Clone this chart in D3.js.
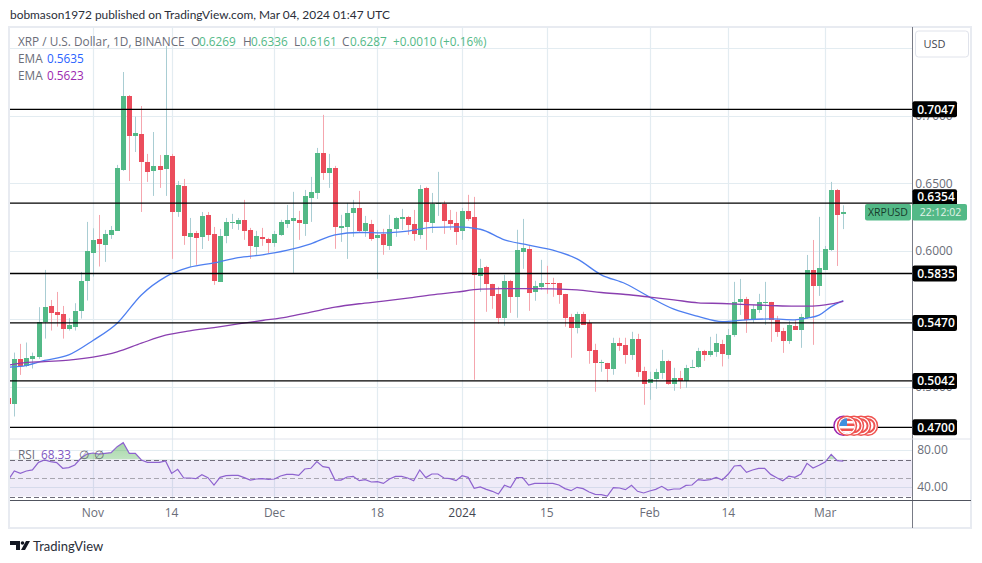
<!DOCTYPE html>
<html>
<head>
<meta charset="utf-8">
<script src="https://cdn.jsdelivr.net/npm/d3@7"></script>
<style>
  html, body { margin: 0; padding: 0; background: #fff; }
  svg { display: block; }
  text { font-family: "Open Sans", "Noto Sans", sans-serif; }
</style>
</head>
<body>
<div id="chart"></div>
<script>
// first candle is 18 Oct 2023, one candle per day
const firstDay = new Date(Date.UTC(2023, 9, 18))
const opens = [.4918,.4876,.5204,.5151,.5207,.5224,.5479,.5596,.5550,.5538,.5430,.5444,.5560,.5780,.5986,.6089,.6045,.6118,.6148,.6596,.7140,.6846,.6861,.6655,.6589,.6625,.6603,.6699,.6287,.6478,.6103,.6133,.6103,.6265,.6126,.5773,.6111,.6209,.6199,
  .6229,.6155,.6031,.6104,.6089,.6060,.6119,.6199,.6222,.6229,.6199,.6391,.6427,.6721,.6574,.6611,.6170,.6177,.6280,.6317,.6148,.6199,.6097,.6126,.6038,.6163,.6236,.6251,.6199,.6119,.6464,.6207,.6349,.6347,.6229,.6207,.6148,.6295,
  .6251,.5817,.5884,.5759,.5685,.5509,.5781,.5663,.5994,.6016,.5700,.5737,.5766,.5766,.5766,.5685,.5516,.5435,.5538,.5472,.5273,.5178,.5178,.5134,.5325,.5310,.5237,.5354,.5119,.5031,.5060,.5104,.5193,.5024,.5068,.5046,.5141,.5149,
  .5266,.5236,.5258,.5317,.5236,.5383,.5626,.5648,.5494,.5567,.5618,.5626,.5494,.5413,.5339,.5449,.5420,.5508,.5861,.5743,.5861,.6008,.6449,.6269]
const closes = [.4876,.5204,.5151,.5212,.5229,.5479,.5587,.5545,.5530,.5430,.5457,.5560,.5780,.6001,.6082,.6052,.6126,.6155,.6611,.7140,.6846,.6868,.6655,.6581,.6625,.6596,.6706,.6287,.6486,.6111,.6133,.6096,.6258,.6118,.5780,.6111,.6214,.6214,.6229,
  .6148,.6038,.6111,.6089,.6060,.6126,.6214,.6229,.6244,.6207,.6405,.6435,.6721,.6574,.6611,.6177,.6185,.6280,.6317,.6148,.6207,.6089,.6119,.6045,.6163,.6244,.6251,.6192,.6126,.6457,.6214,.6347,.6354,.6222,.6199,.6141,.6295,.6236,
  .5825,.5876,.5759,.5670,.5509,.5781,.5663,.6008,.6023,.5692,.5744,.5766,.5761,.5761,.5678,.5509,.5435,.5538,.5457,.5266,.5178,.5185,.5134,.5325,.5303,.5237,.5354,.5112,.5024,.5060,.5112,.5193,.5024,.5068,.5046,.5141,.5149,.5266,
  .5236,.5266,.5324,.5244,.5383,.5626,.5648,.5494,.5574,.5626,.5626,.5494,.5405,.5339,.5457,.5420,.5516,.5861,.5743,.5876,.6015,.6449,.6265,.6287]
const highs = [.4918,.5253,.5317,.5327,.5253,.5587,.5861,.5640,.5699,.5596,.5506,.5616,.5846,.6214,.6167,.6265,.6155,.6184,.6633,.7316,.7147,.6988,.7066,.6714,.6875,.6706,.7507,.6714,.6515,.6530,.6243,.6148,.6287,.6287,.6177,.6162,.6243,.6273,.6243,
  .6376,.6170,.6148,.6170,.6097,.6148,.6229,.6339,.6435,.6295,.6449,.6545,.6758,.7001,.6714,.6626,.6266,.6354,.6376,.6442,.6258,.6229,.6155,.6163,.6266,.6251,.6310,.6258,.6302,.6486,.6472,.6427,.6582,.6369,.6302,.6288,.6317,.6413,
  .6398,.5942,.5891,.5759,.5737,.5825,.5788,.6156,.6236,.6038,.5781,.5935,.5891,.5803,.5766,.5685,.5538,.5553,.5553,.5494,.5318,.5200,.5178,.5362,.5362,.5362,.5406,.5391,.5149,.5112,.5134,.5273,.5200,.5141,.5119,.5163,.5200,.5288,
  .5273,.5369,.5391,.5347,.5427,.5773,.5795,.5663,.5604,.5685,.5773,.5626,.5523,.5435,.5486,.5494,.5538,.5971,.6081,.6251,.6037,.6508,.6456,.6336]
const lows = [.4876,.4783,.5089,.5146,.5136,.5207,.5356,.5415,.5444,.5356,.5415,.5415,.5503,.5636,.5812,.5886,.5920,.6089,.6148,.6589,.6515,.6728,.6287,.6508,.6405,.6464,.6405,.5942,.6251,.6045,.5883,.5898,.6015,.6074,.5751,.5773,.6057,.6162,.6155,
  .6082,.5942,.5972,.6038,.5986,.6031,.6111,.6170,.5839,.6082,.6111,.6214,.6383,.6523,.6464,.6016,.6067,.5942,.6104,.6141,.6104,.6075,.5795,.5972,.6008,.6104,.6155,.6119,.6075,.6089,.6008,.6133,.6258,.6126,.6155,.6045,.6082,.6222,
  .5053,.5700,.5553,.5575,.5465,.5450,.5545,.5509,.5869,.5560,.5634,.5715,.5685,.5663,.5612,.5443,.5215,.5394,.5457,.5171,.4965,.5112,.5038,.5090,.5266,.5171,.5200,.5075,.4869,.4906,.4987,.5060,.5016,.4972,.4987,.4994,.5141,.5141,
  .5192,.5222,.5222,.5151,.5207,.5369,.5530,.5398,.5472,.5545,.5457,.5332,.5369,.5251,.5317,.5420,.5288,.5501,.5310,.5670,.5861,.6001,.5890,.6161]

// EMA readings, taken every few candles (candle number counted from firstDay)
const emaDays = [0,2,6,10,14,18,22,26,30,34,38,42,46,50,54,58,62,66,70,74,78,82,86,90,94,98,102,106,110,114,118,122,126,130,132,134,136,138]
const emaFast = [.5146,.5151,.5195,.5236,.5342,.5469,.5677,.5810,.5881,.5913,.5952,.5972,.6004,.6053,.6119,.6136,.6133,.6146,.6173,.6178,.6160,.6082,.6043,.6006,.5942,.5825,.5759,.5661,.5572,.5519,.5481,.5494,.5501,.5494,.5506,.5528,.5591,.5635]
const emaSlow = [.5160,.5175,.5187,.5197,.5219,.5258,.5322,.5381,.5413,.5437,.5464,.5489,.5514,.5550,.5587,.5612,.5631,.5653,.5678,.5697,.5719,.5724,.5724,.5722,.5714,.5695,.5680,.5661,.5641,.5619,.5614,.5606,.5599,.5594,.5594,.5599,.5611,.5630]

const rsi = [47.8,57.6,55.0,57.6,58.7,66.9,69.5,67.7,66.6,60.5,61.2,64.1,71.3,75.9,77.0,75.9,76.7,77.4,83.9,88.2,76.7,76.7,69.5,66.9,66.9,66.9,68.4,55.0,59.4,50.0,50.0,49.3,53.6,50.4,42.4,50.7,52.5,52.9,52.9,
  50.4,47.8,48.9,49.3,48.6,48.9,52.2,54.0,54.0,52.9,59.7,60.5,67.7,62.3,61.2,47.8,47.8,51.1,51.8,47.1,48.2,45.7,46.0,44.2,48.9,51.8,51.8,50.0,47.1,58.7,50.4,54.3,54.3,50.0,49.3,47.1,52.5,50.7,
  38.8,40.3,37.7,35.6,32.7,42.1,39.6,50.4,50.4,42.4,44.2,44.2,44.2,44.2,42.4,38.5,36.3,39.9,38.5,34.9,32.3,32.0,30.5,39.6,39.2,37.4,42.1,35.6,33.8,35.9,37.7,41.0,37.0,38.1,38.1,42.0,42.4,48.2,
  47.5,48.2,50.7,47.8,54.3,63.0,63.7,56.1,58.6,60.4,60.4,53.9,50.3,47.1,52.1,50.7,54.3,65.8,60.8,63.7,67.3,75.6,68.7,68.33]

const levels = [0.7047, 0.6354, 0.5835, 0.5470, 0.5042, 0.4700]
const priceGrid = [0.75, 0.70, 0.65, 0.60, 0.55, 0.50]
const priceLabels = [0.70, 0.65, 0.60, 0.50]
const rsiTicks = [80, 40]
const timeTicks = [
  [new Date(Date.UTC(2023, 10, 1)), 'Nov'],
  [new Date(Date.UTC(2023, 10, 14)), '14'],
  [new Date(Date.UTC(2023, 11, 1)), 'Dec'],
  [new Date(Date.UTC(2023, 11, 18)), '18'],
  [new Date(Date.UTC(2024, 0, 1)), '2024'],
  [new Date(Date.UTC(2024, 0, 15)), '15'],
  [new Date(Date.UTC(2024, 1, 1)), 'Feb'],
  [new Date(Date.UTC(2024, 1, 14)), '14'],
  [new Date(Date.UTC(2024, 2, 1)), 'Mar']
]

const up = '#53b987', down = '#eb4d5c'
const upWick = '#a9cdd3', downWick = '#f5a6ae'
const grid = '#e3ecf1'
const grey = '#6a6d78'

const dayOf = i => d3.utcDay.offset(firstDay, i)

const svg = d3.select('#chart').append('svg').attr('width', 982).attr('height', 563)

let x = d3.scaleUtc()
  .domain([dayOf(1), dayOf(138)])
  .range([14.3, 843.3])
let y = d3.scaleLinear().domain([0.65, 0.47]).range([183, 427.8])
// grid, axis and drawn levels, their prices are exact
let yLevel = d3.scaleLinear().domain([0.7047, 0.47]).range([109.3, 427.3])
let yRsi = d3.scaleLinear().domain([70, 30]).range([459.5, 496.5])

const paneL = 10, paneR = 912.5, paneT = 27, priceB = 439, paneB = 500.5
const snap = v => Math.round(v) + 0.5

svg.append('text').attr('x', 10).attr('y', 19)
  .attr('font-size', 11.9).attr('fill', '#2a2e39').style('font-family', 'Lato')
  .text('bobmason1972 published on TradingView.com, Mar 04, 2024 01:47 UTC')

// outer frame
svg.append('rect').attr('x', 9).attr('y', 27).attr('width', 962).attr('height', 501)
  .attr('fill', '#fff').attr('stroke', '#e8ebf1').attr('stroke-width', 2)

svg.append('clipPath').attr('id', 'pane').append('rect')
  .attr('x', paneL).attr('y', paneT).attr('width', paneR - paneL).attr('height', priceB - paneT)
svg.append('clipPath').attr('id', 'rsiPane').append('rect')
  .attr('x', paneL).attr('y', priceB).attr('width', paneR - paneL).attr('height', paneB - priceB)
svg.append('clipPath').attr('id', 'above70').append('rect')
  .attr('x', paneL).attr('y', priceB).attr('width', paneR - paneL).attr('height', yRsi(70) - priceB)

// grid
svg.append('g').selectAll('line').data(timeTicks).enter().append('line')
  .attr('x1', d => snap(x(d[0]))).attr('x2', d => snap(x(d[0])))
  .attr('y1', paneT).attr('y2', paneB)
  .attr('stroke', grid).attr('stroke-width', 1.2)
svg.append('g').selectAll('line').data(priceGrid).enter().append('line')
  .attr('x1', paneL).attr('x2', paneR)
  .attr('y1', d => snap(yLevel(d))).attr('y2', d => snap(yLevel(d)))
  .attr('stroke', grid).attr('stroke-width', 1.2)
svg.append('g').selectAll('line').data(rsiTicks).enter().append('line')
  .attr('x1', paneL).attr('x2', paneR)
  .attr('y1', d => snap(yRsi(d))).attr('y2', d => snap(yRsi(d)))
  .attr('stroke', grid).attr('stroke-width', 1.2)

// RSI pane
svg.append('rect').attr('x', paneL).attr('width', paneR - paneL)
  .attr('y', yRsi(70)).attr('height', yRsi(30) - yRsi(70))
  .attr('fill', '#7e57c2').attr('opacity', 0.12)

const defs = svg.append('defs')
const grad = defs.append('linearGradient').attr('id', 'rsiGreen').attr('x1', 0).attr('x2', 0).attr('y1', 0).attr('y2', 1)
grad.append('stop').attr('offset', '0%').attr('stop-color', '#4caf50').attr('stop-opacity', 0.5)
grad.append('stop').attr('offset', '100%').attr('stop-color', '#4caf50').attr('stop-opacity', 0.02)

const rsiArea = d3.area()
  .x((d, i) => x(dayOf(i)))
  .y0(yRsi(70))
  .y1(d => yRsi(d))
svg.append('path').datum(rsi).attr('d', rsiArea)
  .attr('fill', 'url(#rsiGreen)').attr('clip-path', 'url(#above70)')

svg.append('g').selectAll('line').data([70, 50, 30]).enter().append('line')
  .attr('x1', paneL).attr('x2', paneR)
  .attr('y1', d => snap(yRsi(d))).attr('y2', d => snap(yRsi(d)))
  .attr('stroke', d => d == 50 ? '#a8a6b0' : '#6f6c7a')
  .attr('stroke-dasharray', '5,3')

svg.append('path').datum(rsi)
  .attr('d', d3.line().x((d, i) => x(dayOf(i))).y(d => yRsi(d)))
  .attr('fill', 'none').attr('stroke', '#8e63cf').attr('stroke-width', 1.2)
  .attr('clip-path', 'url(#rsiPane)')

// candles
const candles = svg.append('g').attr('clip-path', 'url(#pane)')
const days = opens.map((d, i) => i)
const bodyTop = i => Math.round(y(Math.max(opens[i], closes[i])))
const bodyBottom = i => Math.round(y(Math.min(opens[i], closes[i])))
candles.selectAll('line').data(days).enter().append('line')
  .attr('x1', i => snap(x(dayOf(i)))).attr('x2', i => snap(x(dayOf(i))))
  .attr('y1', i => y(highs[i])).attr('y2', i => y(lows[i]))
  .attr('stroke', i => closes[i] >= opens[i] ? upWick : downWick)
candles.selectAll('rect').data(days).enter().append('rect')
  .attr('x', i => Math.round(x(dayOf(i))) - 2).attr('width', 5)
  .attr('y', bodyTop)
  .attr('height', i => Math.max(1, bodyBottom(i) - bodyTop(i)))
  .attr('fill', i => closes[i] >= opens[i] ? up : down)

// EMA lines
const emaLine = d3.line().x((d, i) => x(dayOf(emaDays[i]))).y(d => y(d)).curve(d3.curveMonotoneX)
svg.append('path').datum(emaFast).attr('d', emaLine).attr('fill', 'none')
  .attr('stroke', '#4e7ff0').attr('stroke-width', 1.3).attr('clip-path', 'url(#pane)')
svg.append('path').datum(emaSlow).attr('d', emaLine).attr('fill', 'none')
  .attr('stroke', '#8a3fb0').attr('stroke-width', 1.3).attr('clip-path', 'url(#pane)')

// drawn levels
svg.append('g').selectAll('line').data(levels).enter().append('line')
  .attr('x1', paneL).attr('x2', paneR)
  .attr('y1', d => yLevel(d)).attr('y2', d => yLevel(d))
  .attr('stroke', '#000').attr('stroke-width', 1.3)

// event flags
const flags = svg.append('g')
flags.append('circle').attr('cx', 843.5).attr('cy', 425.7).attr('r', 9.5).attr('fill', '#fff').attr('stroke', '#9c27b0').attr('stroke-width', 1.5)
;[868, 861, 854, 847].forEach(cx => {
  flags.append('circle').attr('cx', cx).attr('cy', 425.7).attr('r', 9.5).attr('fill', '#fff').attr('stroke', '#ef5350').attr('stroke-width', 1.5)
  flags.append('circle').attr('cx', cx).attr('cy', 425.7).attr('r', 6.5).attr('fill', '#fff').attr('stroke', '#ef5350').attr('stroke-width', 2)
})
flags.append('clipPath').attr('id', 'flag').append('circle').attr('cx', 847).attr('cy', 425.7).attr('r', 7.5)
const flag = flags.append('g').attr('clip-path', 'url(#flag)')
flag.append('rect').attr('x', 839).attr('y', 418).attr('width', 16).attr('height', 16).attr('fill', '#fff')
;[0, 2, 4].forEach(k => flag.append('rect').attr('x', 839).attr('y', 418.5 + k * 2.5).attr('width', 16).attr('height', 2.5).attr('fill', '#ef5350'))
flag.append('rect').attr('x', 839).attr('y', 418).attr('width', 8).attr('height', 8).attr('fill', '#3f8fdf')

// axes
svg.append('line').attr('x1', paneR).attr('x2', paneR).attr('y1', paneT).attr('y2', 528).attr('stroke', '#787b86')
svg.append('line').attr('x1', paneL).attr('x2', 971).attr('y1', paneB).attr('y2', paneB).attr('stroke', '#50535e')
svg.append('line').attr('x1', paneL).attr('x2', paneR).attr('y1', priceB).attr('y2', priceB).attr('stroke', '#e0e3eb')
svg.append('line').attr('x1', paneR).attr('x2', 971).attr('y1', priceB).attr('y2', priceB).attr('stroke', '#e0e3eb')

// 0.7000 and 0.5000 sit half hidden behind the level tags, as in the original
svg.append('g').selectAll('text').data(priceLabels).enter().append('text')
  .attr('x', 934).attr('y', d => yLevel(d)).attr('dy', '0.35em').attr('text-anchor', 'middle')
  .attr('font-size', 12).attr('fill', grey).text(d => d.toFixed(4))
svg.append('g').selectAll('text').data(rsiTicks).enter().append('text')
  .attr('x', 932.5).attr('y', d => yRsi(d)).attr('dy', '0.35em').attr('text-anchor', 'middle')
  .attr('font-size', 12).attr('fill', grey).text(d => d.toFixed(2))
svg.append('g').selectAll('text').data(timeTicks).enter().append('text')
  .attr('x', d => x(d[0])).attr('y', 513).attr('dy', '0.35em').attr('text-anchor', 'middle')
  .attr('font-size', 12).attr('fill', d => d[1] == '2024' ? '#434651' : grey)
  .attr('font-weight', d => d[1] == '2024' ? 500 : 400).text(d => d[1])

// price tags, the 0.6354 one is pushed up by the countdown label
const tagY = d => d == 0.6354 ? yLevel(d) - 6 : yLevel(d)
const tags = svg.append('g').selectAll('g').data(levels).enter().append('g')
tags.append('rect').attr('x', paneR).attr('width', 44.5).attr('y', d => tagY(d) - 8).attr('height', 16).attr('rx', 2).attr('fill', '#000')
tags.append('text').attr('x', 936).attr('y', d => tagY(d)).attr('dy', '0.35em').attr('text-anchor', 'middle')
  .attr('font-size', 12).attr('font-weight', 600).attr('fill', '#fff').text(d => d.toFixed(4))

svg.append('rect').attr('x', 865).attr('y', 204).attr('width', 46).attr('height', 16.5).attr('rx', 2).attr('fill', up)
svg.append('rect').attr('x', 912).attr('y', 204).attr('width', 55).attr('height', 16.5).attr('rx', 2).attr('fill', up)
svg.append('text').attr('x', 888).attr('y', 212.3).attr('dy', '0.35em').attr('text-anchor', 'middle')
  .attr('font-size', 10.5).attr('fill', '#173a2b').text('XRPUSD')
svg.append('text').attr('x', 940.5).attr('y', 212.3).attr('dy', '0.35em').attr('text-anchor', 'middle')
  .attr('font-size', 10.5).attr('fill', '#e3f3ea').text('22:12:02')

// USD box
svg.append('rect').attr('x', 915.5).attr('y', 31).attr('width', 53).attr('height', 26).attr('rx', 3)
  .attr('fill', '#fff').attr('stroke', '#e0e3eb')
svg.append('text').attr('x', 934.5).attr('y', 44).attr('dy', '0.35em').attr('text-anchor', 'middle')
  .attr('font-size', 11).attr('fill', '#434651').text('USD')

// legend
const legend = (xp, yp, txt, col) => svg.append('text').attr('x', xp).attr('y', yp).attr('dy', '0.35em')
  .attr('font-size', 11.8).attr('fill', col).text(txt)
const legendGreen = '#53b987'
legend(18, 41.5, 'XRP / U.S. Dollar, 1D, BINANCE', grey)
legend(191, 41.5, 'O', grey); legend(199, 41.5, '0.6269', legendGreen)
legend(243, 41.5, 'H', grey); legend(251, 41.5, '0.6336', legendGreen)
legend(294, 41.5, 'L', grey); legend(300, 41.5, '0.6161', legendGreen)
legend(342, 41.5, 'C', grey); legend(350, 41.5, '0.6287', legendGreen)
legend(393, 41.5, '+0.0010 (+0.16%)', legendGreen)
legend(18, 58.5, 'EMA', grey); legend(47, 58.5, '0.5635', '#2962ff')
legend(18, 75.5, 'EMA', grey); legend(47, 75.5, '0.5623', '#9c27b0')
legend(18, 454.5, 'RSI', grey); legend(41, 454.5, '68.33', '#7e57c2')
legend(79, 454.5, '∅', grey); legend(94, 454.5, '∅', grey)

// footer logo
const logo = svg.append('g').attr('fill', '#131722')
logo.append('path').attr('d', 'M10 541h10v9h-4v-5h-6z M21 550l5-9h4l-5 9z')
logo.append('circle').attr('cx', 22.5).attr('cy', 543).attr('r', 1.8)
svg.append('text').attr('x', 33).attr('y', 546).attr('dy', '0.35em').style('font-family', 'Lato')
  .attr('font-size', 13).attr('fill', '#2a2e39').text('TradingView')
</script>
</body>
</html>
